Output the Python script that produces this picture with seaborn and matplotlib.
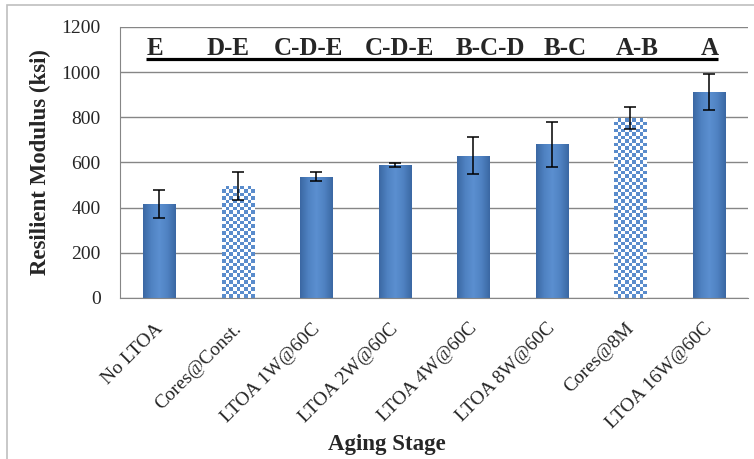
import numpy as np
import pandas as pd
import seaborn as sns
import matplotlib.pyplot as plt
import matplotlib.transforms as mtransforms
from matplotlib.colors import LinearSegmentedColormap, ListedColormap

# Data
stages = ['No LTOA', 'Cores@Const.', 'LTOA 1W@60C', 'LTOA 2W@60C',
          'LTOA 4W@60C', 'LTOA 8W@60C', 'Cores@8M', 'LTOA 16W@60C']
modulus = [418, 495, 538, 588, 630, 680, 797, 912]
errors = [62, 63, 18, 9, 82, 100, 48, 80]
groups = ['E', 'D-E', 'C-D-E', 'C-D-E', 'B-C-D', 'B-C', 'A-B', 'A']
is_core = [False, True, False, False, False, False, True, False]

# small horizontal nudges of the grouping letters (category units)
letter_shift = [-0.05, -0.12, -0.10, 0.06, 0.22, 0.17, 0.09, 0.01]

df = pd.DataFrame({'Stage': stages, 'Mr': modulus})

sns.set_style('white')
plt.rcParams['font.family'] = ['Liberation Serif', 'DejaVu Serif']

blue = '#4F81BD'
grey = '#868686'
fig = plt.figure(figsize=(7.54, 4.59), dpi=100)
ax = fig.add_axes([120 / 754, 1 - 298 / 459, 628 / 754, 271 / 459])

sns.barplot(data=df, x='Stage', y='Mr', color=blue, width=0.41,
            saturation=1, errorbar=None, ax=ax, zorder=2)

ax.set_ylim(0, 1200)
ax.set_xlim(-0.5, 7.5)

# bar shading: rounded gradient for the lab bars, checkers for the cores
shade = LinearSegmentedColormap.from_list(
    'shade', ['#3b68a3', '#4f82c2', '#5b8fd0', '#4f82c2', '#3b68a3'])
checks = ListedColormap(['white', '#5a8ccc'])
px_per_unit = ax.transData.transform((0, 1))[1] - ax.transData.transform((0, 0))[1]
for patch, core in zip(ax.patches, is_core):
    x0, w, h = patch.get_x(), patch.get_width(), patch.get_height()
    patch.set_edgecolor('none')
    if core:
        patch.set_facecolor('white')
        ncol = 9
        nrow = max(1, int(round(h * px_per_unit / 3.5)))
        grid = (np.add.outer(np.arange(nrow), np.arange(ncol)) % 2)
        im = ax.imshow(grid, cmap=checks, extent=(x0, x0 + w, 0, h),
                       aspect='auto', interpolation='nearest', zorder=2.1)
    else:
        grad = np.linspace(0, 1, 64)[None, :]
        im = ax.imshow(grad, cmap=shade, extent=(x0, x0 + w, 0, h),
                       aspect='auto', zorder=2.1)
    im.set_clip_path(patch)

ax.set_xlim(-0.5, 7.5)
ax.set_ylim(0, 1200)

ax.errorbar(range(len(stages)), modulus, yerr=errors, fmt='none',
            ecolor='black', elinewidth=1.1, capsize=4.5, capthick=1.1, zorder=3)

# statistical grouping letters, underlined
for i, g in enumerate(groups):
    ax.text(i + letter_shift[i], 1076, g, ha='center', va='baseline',
            fontsize=18, fontweight='bold')
ax.plot([-0.17, 7.12], [1058, 1058], color='black', lw=2.3, zorder=3,
        solid_capstyle='butt')

ax.set_yticks(range(0, 1201, 200))
ax.yaxis.grid(True, color=grey, lw=1)
ax.set_axisbelow(True)
for s in ['top', 'right']:
    ax.spines[s].set_visible(False)
ax.spines['left'].set_color(grey)
ax.spines['bottom'].set_color(grey)
ax.tick_params(axis='y', length=5, width=1, color=grey, labelsize=14, pad=9)
ax.tick_params(axis='x', length=0, labelsize=14, pad=0)

shift = mtransforms.ScaledTranslation(-5 / 100, -22 / 100, fig.dpi_scale_trans)
for lab in ax.get_xticklabels():
    lab.set_rotation(45)
    lab.set_ha('right')
    lab.set_va('top')
    lab.set_rotation_mode('anchor')
    lab.set_transform(lab.get_transform() + shift)

ax.set_ylabel('Resilient Modulus (ksi)', fontsize=16.5, fontweight='bold',
              va='center')
ax.yaxis.set_label_coords(-0.127, 0.5)
ax.set_xlabel('Aging Stage', fontsize=16.5, fontweight='bold', va='center')
ax.xaxis.set_label_coords(0.425, -0.54)

# light chart frame, running off the right and bottom edges
fig.patches.append(plt.Rectangle((7 / 754, -0.2), 1.2, 1.2 - 5 / 459,
                                 transform=fig.transFigure, fill=False,
                                 edgecolor='#bfbfbf', lw=1.2))

plt.savefig('out.png')
